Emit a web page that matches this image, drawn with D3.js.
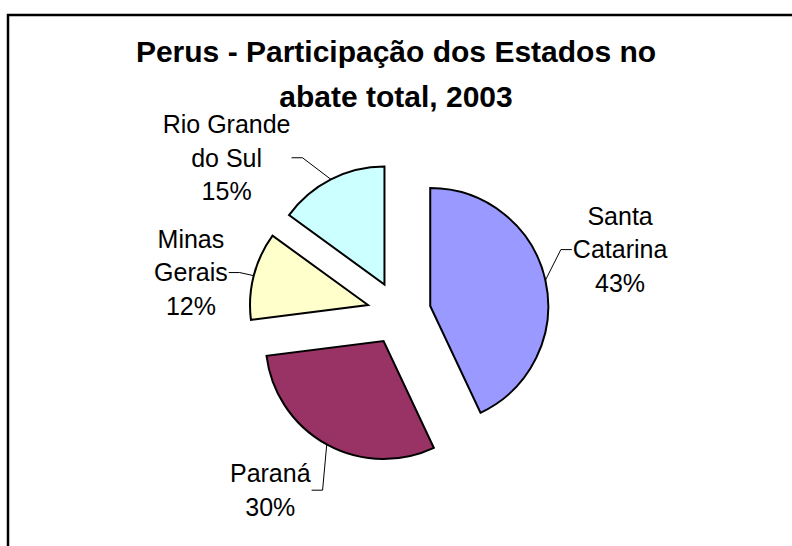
<!DOCTYPE html>
<html>
<head>
<meta charset="utf-8">
<script src="https://cdn.jsdelivr.net/npm/d3@7"></script>
<style>
  body { margin: 0; background: #fff; }
  svg { display: block; font-family: "Liberation Sans", Arial, sans-serif; }
</style>
</head>
<body>
<svg id="chart" width="792" height="546"></svg>
<script>
// data
const titleLines = ["Perus - Participação dos Estados no", "abate total, 2003"];
const states = ["Santa Catarina", "Paraná", "Minas Gerais", "Rio Grande do Sul"];
const shares = [43, 30, 12, 15];
const labelLines = [["Santa", "Catarina"], ["Paraná"], ["Minas", "Gerais"], ["Rio Grande", "do Sul"]];
const colors = ["#9999ff", "#993366", "#ffffcc", "#ccffff"];

// layout
const cx = 399, cy = 313, radius = 118, explode = 32;
const labelSpots = [[74, 230], [216, 219], [281, 212], [312, 232]]; // angle (deg), distance from centre
const lineH = 33.5;

const svg = d3.select("#chart");

// chart area border (runs off the right and bottom edges)
svg.append("rect")
    .attr("x", 8).attr("y", 15)
    .attr("width", 900).attr("height", 700)
    .attr("fill", "#fff")
    .attr("stroke", "#000")
    .attr("stroke-width", 2.5);

svg.append("g")
    .attr("font-weight", "bold")
    .attr("font-size", 30)
    .attr("text-anchor", "middle")
  .selectAll("text")
    .data(titleLines)
    .join("text")
    .attr("x", 396)
    .attr("y", (d, i) => 62 + i * 45)
    .text(d => d);

const total = d3.sum(shares);
const pie = d3.pie().sort(null).startAngle(0).endAngle(2 * Math.PI);
const arcs = pie(shares);
const arc = d3.arc().innerRadius(0).outerRadius(radius);

const polar = (a, r) => [Math.sin(a) * r, -Math.cos(a) * r];

const slices = svg.append("g").attr("transform", `translate(${cx},${cy})`);

slices.selectAll("path")
    .data(arcs)
    .join("path")
    .attr("transform", d => {
        const [ox, oy] = polar((d.startAngle + d.endAngle) / 2, explode);
        return `translate(${ox},${oy})`;
    })
    .attr("d", arc)
    .attr("fill", (d, i) => colors[i])
    .attr("stroke", "#000")
    .attr("stroke-width", 2)
    .attr("stroke-linejoin", "miter");

// labels
const labels = slices.append("g")
    .attr("font-size", 25)
    .attr("text-anchor", "middle")
    .attr("fill", "#000");

arcs.forEach((d, i) => {
    const mid = (d.startAngle + d.endAngle) / 2;
    const [lx, ly] = polar(labelSpots[i][0] * Math.PI / 180, labelSpots[i][1]);
    const lines = labelLines[i].concat([Math.round(d.value / total * 100) + "%"]);
    const g = labels.append("g");
    const texts = g.selectAll("text")
        .data(lines)
        .join("text")
        .attr("x", lx)
        .attr("y", (t, j) => ly + (j - (lines.length - 1) / 2) * lineH)
        .attr("dy", "0.35em")
        .text(t => t);
    const w = d3.max(texts.nodes(), n => n.getComputedTextLength());

    // leader line: from the slice edge at its mid angle to the label side
    const [ox, oy] = polar(mid, explode);
    const [ax, ay] = polar(mid, radius);
    const side = lx > 0 ? -1 : 1;
    const ex = lx + side * (w / 2 + 1);
    slices.append("polyline")
        .attr("points", [[ex, ly], [ex + side * 11, ly], [ox + ax, oy + ay]].map(p => p.join(",")).join(" "))
        .attr("fill", "none")
        .attr("stroke", "#000")
        .attr("stroke-width", 1);
});
</script>
</body>
</html>
